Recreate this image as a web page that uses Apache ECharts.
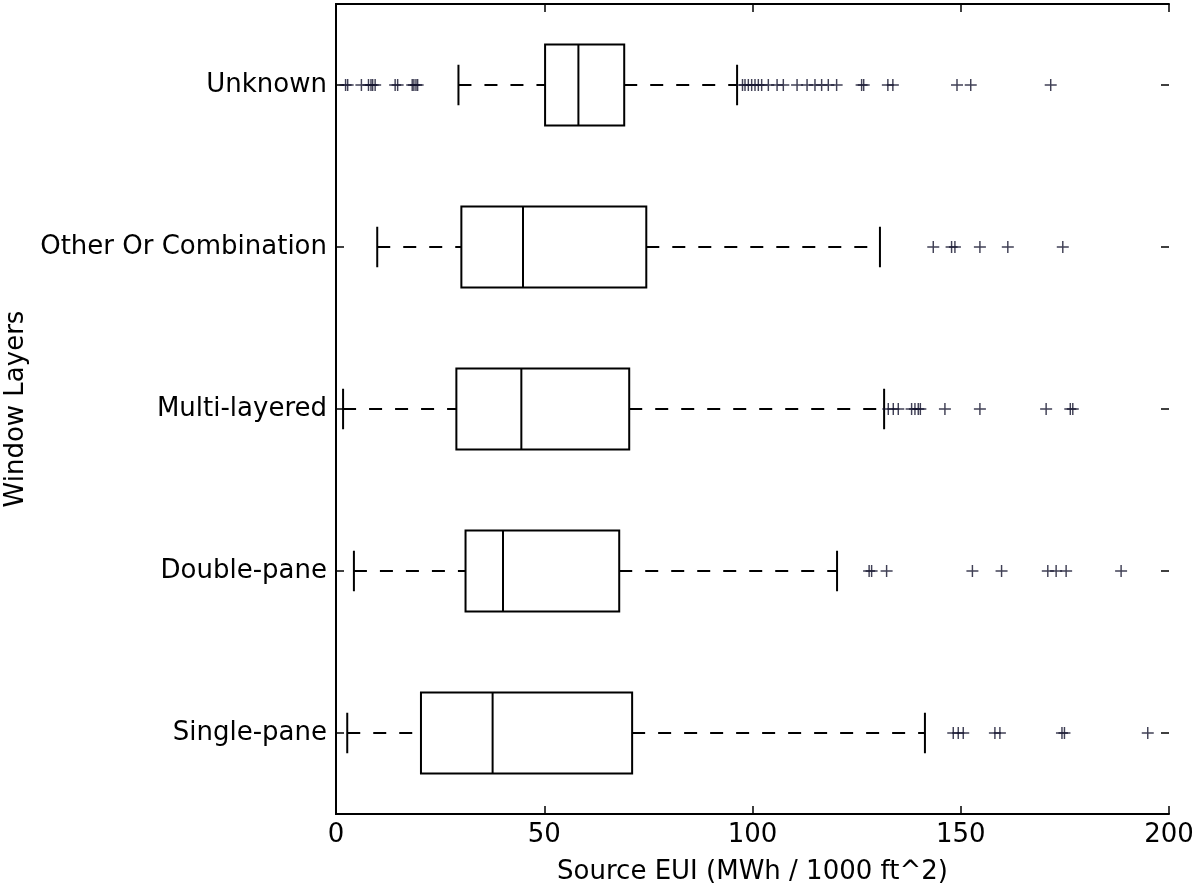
<!DOCTYPE html>
<html><head><meta charset="utf-8">
<script src="https://cdn.jsdelivr.net/npm/echarts@6/dist/echarts.min.js"></script>
<style>html,body{margin:0;padding:0;background:#fff}#c{width:1193px;height:886px}</style>
</head><body><div id="c"></div>
<script>
// Categories bottom-to-top (ECharts category y axis starts at bottom)
const categories = ["Single-pane", "Double-pane", "Multi-layered", "Other Or Combination", "Unknown"];
// [lower whisker, Q1, median, Q3, upper whisker]
const boxSingle = [2.7, 20.4, 37.6, 71.1, 141.4];
const boxDouble = [4.3, 31.1, 40.1, 68.0, 120.3];
const boxMulti = [1.7, 28.9, 44.5, 70.4, 131.6];
const boxOther = [9.9, 30.1, 44.9, 74.5, 130.6];
const boxUnknown = [29.4, 50.2, 58.2, 69.2, 96.3];
// outliers
const outSingle = [148.2, 149.4, 150.6, 158.2, 159.4, 174.3, 174.9, 194.9];
const outDouble = [128.0, 128.6, 132.2, 152.8, 159.8, 170.9, 172.9, 175.3, 188.5];
const outMulti = [132.6, 133.8, 135.0, 138.2, 139.0, 139.8, 140.3, 146.2, 154.6, 170.5, 176.3, 176.9];
const outOther = [143.4, 147.8, 148.6, 154.6, 161.3, 174.5];
const outUnknown = [2.3, 2.8, 6.1, 7.8, 8.4, 8.8, 9.4, 14.2, 14.8, 18.3, 18.7, 19.2, 19.6,
  97.6, 98.2, 99.0, 99.8, 100.6, 101.4, 102.2, 103.8, 105.9, 107.4, 110.7, 113.1, 115.0, 116.6, 118.2, 120.2,
  126.2, 126.7, 132.5, 133.7, 149.1, 152.4, 171.6];
const xTicks = [0, 50, 100, 150, 200];

const boxes = [boxSingle, boxDouble, boxMulti, boxOther, boxUnknown];
const outs = [outSingle, outDouble, outMulti, outOther, outUnknown];
const boxData = boxes.map((b, i) => [i].concat(b));
const outData = [];
outs.forEach((arr, i) => arr.forEach(v => outData.push([v, i])));

const FONT = 'DejaVu Sans';
const chart = echarts.init(document.getElementById('c'), null, {renderer: 'canvas'});

function renderBox(params, api) {
  const ci = api.value(0);
  const mn = api.value(1), q1 = api.value(2), md = api.value(3), q3 = api.value(4), mx = api.value(5);
  const band = api.size([0, 1])[1];
  const h = band * 0.25;
  const cap = band * 0.125;
  const pMin = api.coord([mn, ci]), pQ1 = api.coord([q1, ci]), pMd = api.coord([md, ci]),
        pQ3 = api.coord([q3, ci]), pMx = api.coord([mx, ci]);
  const y = pMin[1];
  const solid = {stroke: '#000', lineWidth: 2, fill: null};
  const dashed = {stroke: '#000', lineWidth: 2, lineDash: [13, 13], fill: null};
  const children = [
    {type: 'rect', shape: {x: pQ1[0], y: y - h, width: pQ3[0] - pQ1[0], height: 2 * h}, style: solid},
    {type: 'line', shape: {x1: pMd[0], y1: y - h, x2: pMd[0], y2: y + h}, style: solid},
    {type: 'line', shape: {x1: pMin[0], y1: y, x2: pQ1[0], y2: y}, style: dashed},
    {type: 'line', shape: {x1: pQ3[0], y1: y, x2: pMx[0], y2: y}, style: dashed},
    {type: 'line', shape: {x1: pMin[0], y1: y - cap, x2: pMin[0], y2: y + cap}, style: solid},
    {type: 'line', shape: {x1: pMx[0], y1: y - cap, x2: pMx[0], y2: y + cap}, style: solid}
  ];
  // inside ticks on left and right frame at the category position (matplotlib style)
  const left = api.coord([0, ci])[0], right = api.coord([200, ci])[0];
  const tickStyle = {stroke: '#000', lineWidth: 1.5};
  children.push({type: 'line', shape: {x1: left, y1: y, x2: left + 8, y2: y}, style: tickStyle});
  children.push({type: 'line', shape: {x1: right - 8, y1: y, x2: right, y2: y}, style: tickStyle});
  return {type: 'group', children: children};
}

const axisLineStyle = {show: true, lineStyle: {color: '#000', width: 2}};
const plus = 'path://M4.4,0 L5.6,0 L5.6,4.4 L10,4.4 L10,5.6 L5.6,5.6 L5.6,10 L4.4,10 L4.4,5.6 L0,5.6 L0,4.4 L4.4,4.4 Z';

chart.setOption({
  animation: false,
  backgroundColor: '#fff',
  grid: {left: 336, right: 24, top: 4, bottom: 72, containLabel: false, outerBoundsMode: 'none'},
  xAxis: [{
    type: 'value', min: xTicks[0], max: xTicks[xTicks.length - 1], interval: 50, position: 'bottom',
    axisLine: axisLineStyle,
    axisTick: {show: true, inside: true, length: 8, lineStyle: {color: '#000', width: 1.5}},
    axisLabel: {color: '#000', fontFamily: FONT, fontSize: 26, margin: 8},
    splitLine: {show: false},
    name: 'Source EUI (MWh / 1000 ft^2)', nameLocation: 'middle', nameGap: 45,
    nameTextStyle: {color: '#000', fontFamily: FONT, fontSize: 26}
  }, {
    type: 'value', min: xTicks[0], max: xTicks[xTicks.length - 1], interval: 50, position: 'top',
    axisLine: axisLineStyle,
    axisTick: {show: true, inside: true, length: 8, lineStyle: {color: '#000', width: 1.5}},
    axisLabel: {show: false}, splitLine: {show: false}
  }],
  yAxis: [{
    type: 'category', data: categories, position: 'left',
    axisLine: axisLineStyle,
    axisTick: {show: false},
    axisLabel: {color: '#000', fontFamily: FONT, fontSize: 26, margin: 9},
    splitLine: {show: false},
    name: 'Window Layers', nameLocation: 'middle', nameGap: 306, nameRotate: 90,
    nameTextStyle: {color: '#000', fontFamily: FONT, fontSize: 26}
  }, {
    type: 'category', data: categories, position: 'right',
    axisLine: axisLineStyle,
    axisTick: {show: false},
    axisLabel: {show: false}, splitLine: {show: false}
  }],
  series: [{
    type: 'custom', xAxisIndex: 0, yAxisIndex: 0,
    renderItem: renderBox,
    encode: {x: [1, 2, 3, 4, 5], y: 0},
    data: boxData, z: 3
  }, {
    type: 'scatter', xAxisIndex: 0, yAxisIndex: 0,
    symbol: plus, symbolSize: 12,
    itemStyle: {color: '#10102a'},
    data: outData, z: 4
  }]
});
</script></body></html>
